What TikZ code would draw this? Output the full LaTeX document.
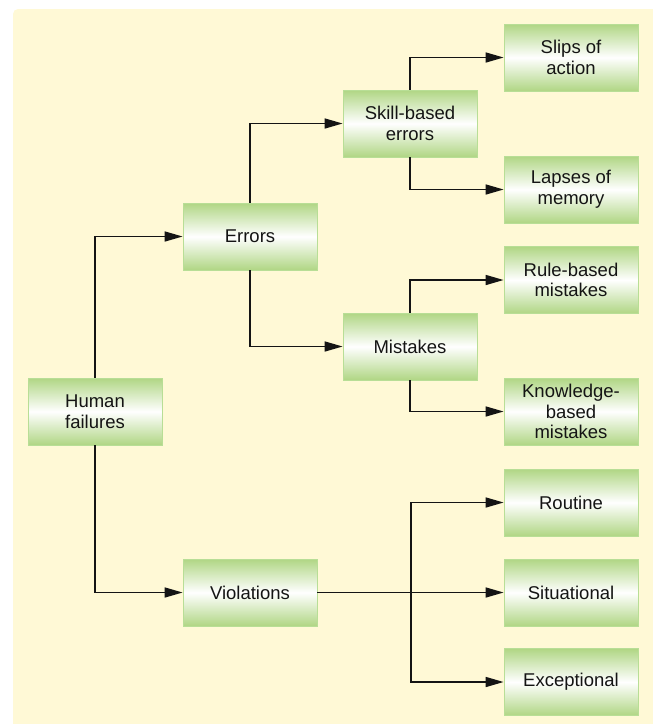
\documentclass[tikz,border=0pt]{standalone}
\usepackage{fontspec}
\setmainfont{Liberation Sans}
\usetikzlibrary{arrows.meta}

\definecolor{paper}{RGB}{255,249,214}
\definecolor{leaf}{RGB}{176,214,132}
\definecolor{leafedge}{RGB}{184,222,150}
\definecolor{ink}{RGB}{20,20,20}

\tikzset{
  catbox/.style={rectangle, minimum width=134pt, minimum height=67pt, inner sep=0pt,
    top color=leaf, bottom color=leaf, middle color=white,
    draw=leafedge, line width=0.8pt, align=center, text=ink,
    font=\fontsize{18.5}{20.7}\selectfont},
  conn/.style={draw=ink, line width=1.6pt,
    -{Triangle[length=18pt,width=10pt]}}
}

\begin{document}
\begin{tikzpicture}[x=1pt,y=-1pt]
\useasboundingbox (0,0) rectangle (653,724);
% cream panel with a rounded upper-left corner
\fill[paper, rounded corners=5pt] (13,9) rectangle (680,760);

% boxes
\node[catbox] (hf)  at (95,411.5)  {Human\\failures};
\node[catbox] (err) at (250,236.5) {Errors};
\node[catbox] (vio) at (250,592.5) {Violations};
\node[catbox] (skl) at (410,123.5) {Skill-based\\errors};
\node[catbox] (mis) at (410,346.5) {Mistakes};
\node[catbox] (slp) at (571,57.5)  {Slips of\\action};
\node[catbox] (lap) at (571,189.5) {Lapses of\\memory};
\node[catbox] (rul) at (571,280)   {Rule-based\\mistakes};
\node[catbox] (kno) at (571,411.5) {Knowledge-\\based\\mistakes};
\node[catbox] (rou) at (571,502.5) {Routine};
\node[catbox] (sit) at (571,592.5) {Situational};
\node[catbox] (exc) at (571,682)   {Exceptional};

% tree connectors
\draw[conn] (hf.north) |- (err.west);
\draw[conn] (hf.south) |- (vio.west);
\draw[conn] (err.north) |- (skl.west);
\draw[conn] (err.south) |- (mis.west);
\draw[conn] (skl.north) |- (slp.west);
\draw[conn] (skl.south) |- (lap.west);
\draw[conn] (mis.north) |- (rul.west);
\draw[conn] (mis.south) |- (kno.west);

% violations fan out
\coordinate (split) at (411,592.5);
\draw[conn] (vio.east) -- (sit.west);
\draw[conn] (split) |- (rou.west);
\draw[conn] (split) |- (exc.west);
\end{tikzpicture}
\end{document}
